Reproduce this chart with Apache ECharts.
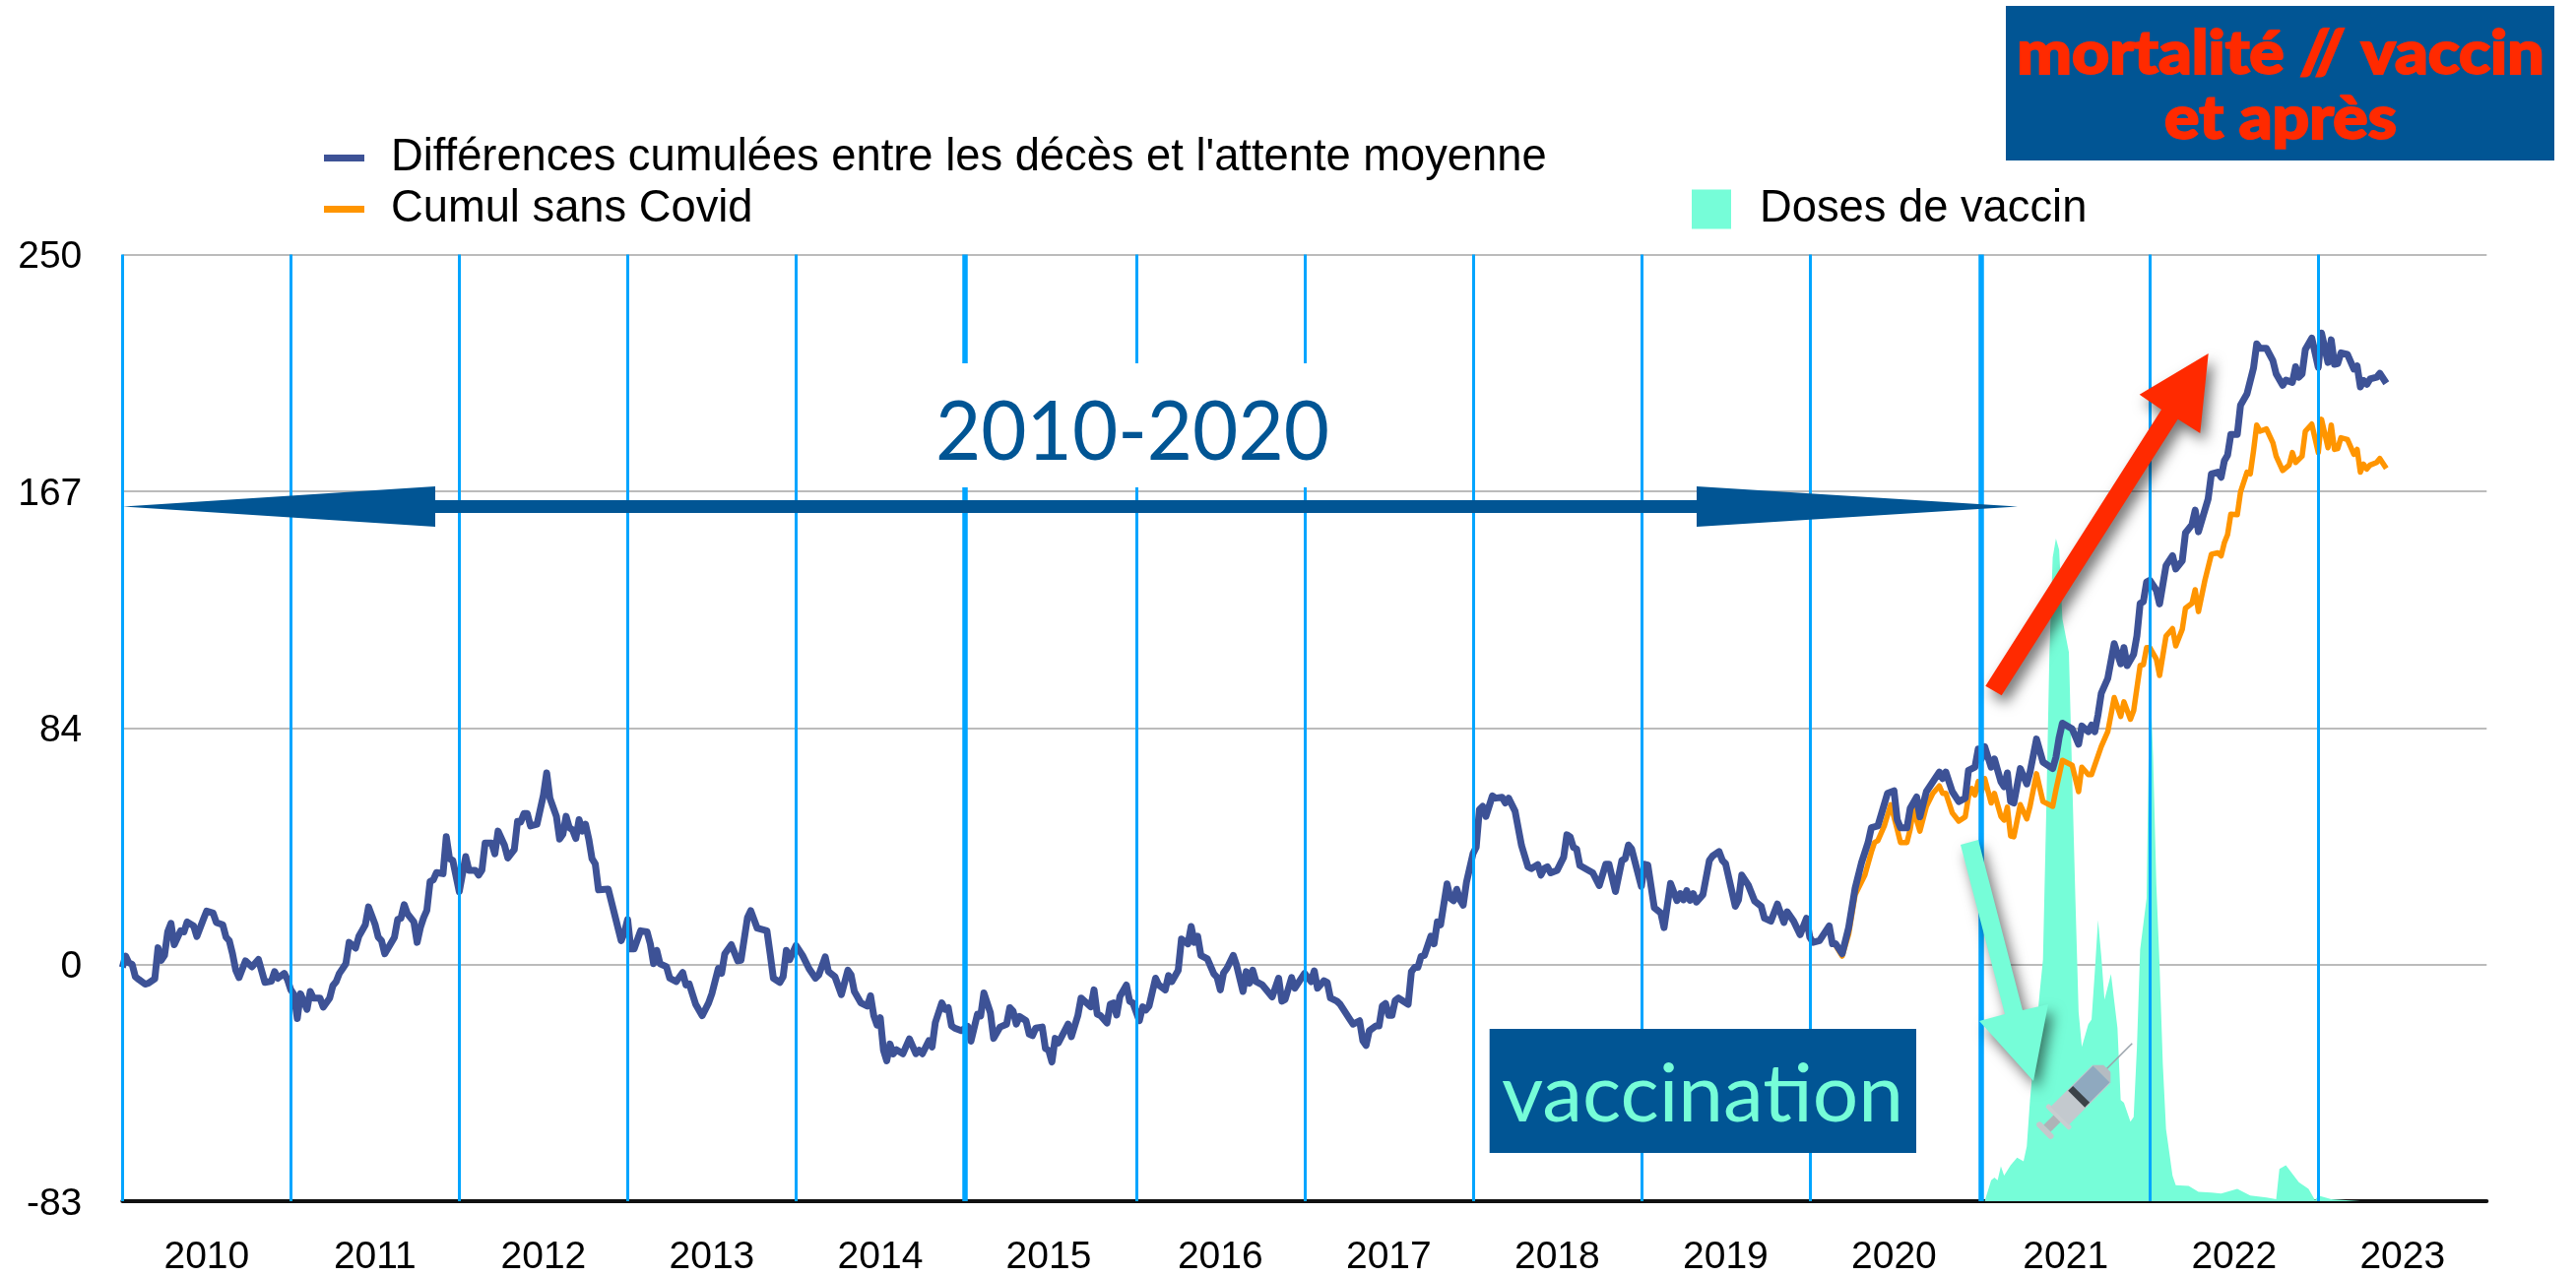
<!DOCTYPE html>
<html><head><meta charset="utf-8">
<style>html,body{margin:0;padding:0;background:#fff}#c{width:2616px;height:1297px}</style>
<script src="https://cdn.jsdelivr.net/npm/echarts@6/dist/echarts.min.js"></script>
</head><body><div id="c"></div>
<script>
// x = week index counted from the first week of 2010
const yearLabels=['2010','2011','2012','2013','2014','2015','2016','2017','2018','2019','2020','2021','2022','2023'];
const yearStartWeeks=[0,52,104,156,208,260,313,365,417,469,521,574,626,678];
const thickYearLines=[260,574];
const yTickLabels=['-83','0','84','167','250'];
const seriesNames=["Différences cumulées entre les décès et l'attente moyenne",'Cumul sans Covid','Doses de vaccin'];

const cumul=[[0,-1],[1,3],[2,.6],[3,.1],[4,-4.3],[5,-5.2],[7,-6.9],[8,-6.6],[10,-5],[11,5.9],[12,1.5],[13,3.2],[14,11.6],[15,14.5],[16,7],[18,11.9],[19,11.5],[20,15],[22,13.6],[23,9.9],[25,15.9],[26,18.8],[28,18.1],[29,14.8],[31,14],[32,9.6],[33,8.4],[34,3.8],[35,-2],[36,-4.6],[38,1.3],[40,-.8],[42,1.8],[44,-6.3],[46,-5.9],[47,-2.5],[48,-4.8],[50,-3.1],[51,-5.4],[52,-8.9],[53,-10.6],[54,-19],[55,-10.3],[57,-15.8],[58,-9.5],[59,-11.8],[61,-11.8],[62,-15],[64,-11.8],[65,-7.4],[66,-6],[67,-3.1],[68,-1.4],[69,.3],[70,7.8],[72,5.8],[73,9.9],[74,11.9],[75,14],[76,20.3],[78,14.2],[79,9.6],[80,8.4],[81,3.8],[84,9.6],[85,15.9],[86,16.3],[87,21.1],[88,17.9],[90,15],[91,7.8],[92,13],[93,16.5],[94,19.1],[95,29.2],[96,29.8],[97,32.4],[99,32],[100,45],[101,37.3],[102,36.7],[104,25.7],[106,38],[107,33.2],[109,33.2],[110,31.5],[111,33.2],[112,42.8],[114,42.8],[115,39],[116,47],[118,41.9],[119,37.5],
[121,40.5],[122,50.4],[123,50.2],[124,53.2],[125,53.2],[126,48.8],[128,49.4],[130,59.7],[131,67.5],[132,58.6],[134,52.2],[135,44.2],[136,45.9],[137,52.2],[138,48.2],[139,47.4],[140,44.4],[141,51],[142,47],[143,49.4],[144,44.2],[145,37.3],[146,35.5],[147,26.3],[150,26.6],[154,8.4],[155,11.3],[156,15.9],[157,5.5],[158,5.5],[160,11.9],[162,11.5],[163,7.3],[164,.3],[165,5],[166,.3],[168,-.8],[169,-4.8],[171,-6],[173,-2.8],[174,-7.2],[175,-6.8],[177,-14],[179,-18],[181,-13.5],[182,-10.3],[184,-1.4],[185,-3.1],[186,3.8],[188,7],[190,1.3],[191,1.5],[193,16.5],[194,19],[196,12.8],[199,11.9],[200,3.8],[201,-4.8],[203,-6.3],[204,-4.3],[205,5],[206,1.7],[208,6.7],[210,3.2],[212,-1.4],[214,-4.8],[215,-3.7],[217,2.7],[218,-2.5],[220,-4.3],[222,-10.6],[224,-2],[225,-3.7],[226,-9.5],[228,-13.5],[230,-14.6],[231,-11],[232,-18],[233,-21.3],[234,-18.7],[235,-30.2],[236,-33.9],[237,-28],[238,-31.5],[239,-30],
[241,-31.4],[243,-26.2],[245,-31.4],[246,-30.2],[247,-31.4],[249,-26.8],[250,-29],[251,-20.4],[253,-13.5],[254,-15.8],[255,-15.2],[256,-21.6],[257,-22.4],[259,-23.3],[261,-21.8],[262,-27],[264,-17.5],[265,-18.1],[266,-10],[268,-17],[269,-26],[271,-22],[273,-21],[274,-15.2],[275,-16.4],[276,-21],[277,-18.3],[279,-19.8],[280,-24.5],[281,-25],[282,-22.4],[284,-22],[285,-29.6],[286,-30.2],[287,-34.3],[288,-26],[289,-27.6],[292,-21],[293,-25.4],[295,-18],[296,-11.8],[299,-14.9],[300,-8.9],[301,-17.5],[302,-18],[304,-20.6],[305,-14],[306,-13.5],[307,-17.8],[308,-11.2],[310,-7.2],[311,-12.9],[312,-13.5],[314,-19.8],[315,-14.9],[316,-16],[317,-14.6],[319,-4.8],[320,-7.2],[322,-8.9],[323,-3.9],[324,-6],[326,-2],[327,9],[329,7.3],[330,13.4],[331,7.8],[332,10],[333,3.2],[335,2],[337,-3.3],[338,-4.5],[339,-8.9],[340,-2.9],[341,-1.4],[343,3.2],[344,-.2],[346,-9.5],[347,-2.5],[348,-6.6],[349,-2],[350,-6],[352,-7.2],[355,-11.4],[357,-4.8],[358,-12.9],[359,-12.3],[361,-4.6],[362,-8.3],
[365,-3.1],[367,-6],[368,-2.2],[369,-8.3],[371,-5.7],[372,-6.3],[373,-11.8],[375,-12.9],[376,-14],[379,-19.3],[380,-21],[382,-19.8],[383,-26.8],[384,-28.5],[385,-23.3],[387,-21.6],[388,-21.6],[389,-14.6],[390,-13.7],[391,-17.9],[392,-17.9],[393,-12.6],[394,-11.8],[397,-14],[398,-2.5],[399,-1],[400,-1],[401,2.9],[402,3.2],[404,10],[405,7.3],[406,15],[407,14],[409,28.4],[410,23.4],[411,22.5],[412,26.5],[413,22.8],[414,20.9],[415,29],[417,39],[418,41.3],[419,54.6],[420,55.7],[421,52.2],[423,59.4],[424,58.6],[426,58.9],[427,56.9],[428,58.6],[430,54],[432,41.9],[434,34.4],[435,33.8],[437,35.2],[438,31.5],[439,33.8],[440,34.4],[441,32.3],[443,33.2],[445,37.8],[446,45.7],[447,45],[448,41.3],[449,40.7],[450,34.9],[454,32.3],[456,27.8],[458,35.3],[459,35.3],[461,25.7],[463,36.7],[464,37.3],[465,42.1],[466,40.7],[469,27.5],[470,35.3],[471,35],[473,20],[475,18.2],[476,13],[478,28.6],
[480,22.5],[481,25],[482,22.8],[483,26],[484,22.6],[485,25],[486,22],[488,24.6],[490,36.7],[491,38.2],[493,39.8],[494,36.7],[495,35.5],[498,20.5],[499,22.8],[500,31.5],[502,28],[504,22.3],[506,20.5],[507,16.3],[509,15.3],[511,21.3],[513,14.8],[514,18.6],[516,15.3],[518,10.5],[520,16.3],[521,9.6],[522,7.8],[524,8.4],[527,13.6],[528,7.3],[529,7.3],[531,3.8],[533,13],[535,26.9],[537,36],[539,43],[540,48.2],[542,48.8],[545,60.3],[547,61.2],[548,51],[549,48.2],[551,48.2],[552,55],[554,59],[555,52],[557,60.9],[561,67.8],[562,65.5],[563,67.8],[565,60.9],[567,57.4],[569,58.6],[570,68.4],[572,69.5],[573,75.9],[574,72.4],[575,76.7],[577,69.5],[578,72.4],[580,64.4],[581,62.6],[582,67.5],[583,57.4],[584,56.9],[586,69],[588,63.6],[589,67.8],[591,79.4],[593,71.3],[596,69],[597,73],
[598,80],[599,85],[602,83],[604,77.6],[605,84],[607,82],[608,84.3],[609,82],[610,88],[611,95.5],[613,100.7],[615,113],[617,105.9],[618,111.6],[619,105.3],[621,109.3],[622,115.7],[623,127.2],[624,127.8],[625,134.7],[626,135.3],[628,131.8],[629,127],[631,140.5],[633,144],[634,139.3],[636,142.2],[637,152],[639,154.9],[640,160],[641,152.4],[644,164],[645,172.8],[647,173.4],[648,171.6],[649,177.4],[650,179.4],[651,186.7],[653,186.7],[654,197],[656,201],[658,210],[659,218.6],[660,217],[662,217],[664,212.6],[665,208],[667,204],[668,205.8],[670,205],[671,210.5],[672,206.8],[673,208],[674,216.6],[676,220.6],[678,210.3],[679,222.4],[681,212],[682,220],[683,211.4],[684,211.6],[685,215.4],[687,214.9],[689,209.7],[690,210.8],[691,203.4],[692,205.7],[693,204.3],[694,206.2],[696,206.8],[697,208.2],[699,204.7]];

const sansCovid=[[529,6.7],[531,3],[533,10.7],[535,24.6],[538,31.5],[540,39.6],[541,43],[542,43.6],[544,48.8],[546,56.3],[548,47.6],[549,43],[551,43],[552,47.6],[553,54.6],[555,47],[557,55.7],[559,60.3],[561,62.9],[562,60.3],[563,60.3],[565,53.4],[567,50.5],[569,52],[570,59.2],[571,62],[572,59.7],[573,64.4],[574,60.9],[575,65.5],[577,56.9],[578,60.3],[580,52.2],[581,50.9],[582,55.4],[583,45.3],[584,45],[586,56.3],[588,51.3],[589,55.7],[591,67.2],[593,57.4],[596,55.7],[597,61.5],[599,71.9],[602,70.2],[604,60.9],[605,69.5],[607,66.9],[608,66.9],[611,76.8],[613,82],[615,94],[617,87.4],[618,92.5],[620,86.4],[621,89.4],[623,105.3],[624,105.6],[625,111.6],[626,111.6],[628,107.6],[629,101.8],[631,115.7],[633,118.3],[634,112.2],[636,118],[637,125.5],[639,127.2],[640,132],[641,124.3],[643,135.3],[645,144.5],[647,145],[648,143.9],[649,148.5],[650,151.4],[651,158.6],[653,158.4],[654,166.4],[656,173.4],[657,172.8],[658,180.8],[659,190],[660,187.8],[662,188.6],[664,183.7],[665,179],[667,174],[669,175.9],[670,180.3],[671,176.8],[673,179],[674,187.8],[676,190.3],[678,180.3],[679,192],[681,182],[682,190],[683,181.4],[684,181.7],[685,185.5],[687,184.9],[689,179.7],[690,181.4],[691,173.4],[692,176.2],[693,174.5],[694,175.9],[696,176.8],[697,178.2],[699,174.7]];

// doses on a hidden 0-100 scale (no axis is printed for them in the picture)
const doses=[[575,0],[577,2.2],[578,2.5],[579,2.2],[580,3.7],[581,2.7],[583,3.8],[585,4.6],[587,4.2],[588,5.8],[589,10.7],[590,14.5],[592,22.1],[593,25.5],[594,41],[595,58],[596,68],[597,70],[598,68.8],[599,61.5],[601,58],[602,45],[603,32],[604,20],[605,16.3],[607,18.7],[608,19.2],[609,24.2],[610,29.7],[611,25.9],[612,21.3],[614,24],[616,18.3],[617,10.7],[618,10.4],[620,8.4],[621,8.9],[622,16.2],[623,26.6],[625,32],[626,56],[627,47],[628,33.5],[629,24.9],[630,14.5],[631,7.6],[633,2.7],[634,1.7],[638,1.6],[641,1],[645,.9],[648,.8],[653,1.3],[657,.6],[662,.4],[665,.2],[666,3.4],[668,3.8],[672,2],[675,1.3],[677,.1],[678,.6],[682,.2],[691,0]];

const NAVY='#3d5296',ORANGE='#ff9500',MINT='#76fdd8',DEEP='#015594',RED='#ff2a00',SKY='#00a5ff',FONT='"Liberation Sans"';
const yTickValues=[-83,0,83,167,250];
const poly=(points,fill,extra)=>({type:'polygon',shape:{points},style:Object.assign({fill},extra||{}),silent:true,z:10});
const shadow={shadowBlur:14,shadowColor:'rgba(0,0,0,0.55)',shadowOffsetX:5,shadowOffsetY:8};
const box=(x,y,w,h,fill,z)=>({type:'rect',shape:{x,y,width:w,height:h},style:{fill},silent:true,z:z||10});
const txt=(x,y,text,fontSize,fill,fontWeight,scaleX,extra)=>({type:'text',x,y,scaleX:scaleX||1,silent:true,z:12,style:Object.assign({text,fontSize,fill,fontWeight,fontFamily:'Lato',align:'center',verticalAlign:'middle'},extra||{})});

const syringe={type:'group',x:2120,y:1105,rotation:Math.PI/4,silent:true,z:13,children:[
 {type:'line',shape:{x1:24,y1:0,x2:64,y2:0},style:{stroke:'#9aa3ab',lineWidth:1.5},z:13},
 {type:'rect',shape:{x:-64,y:-11,width:6,height:22,r:3},style:{fill:'#c4c8cb'},z:13},
 {type:'rect',shape:{x:-58,y:-5,width:16,height:10},style:{fill:'#aeb3b7'},z:13},
 {type:'rect',shape:{x:-44,y:-17,width:5,height:34,r:2},style:{fill:'#c9cdd0'},z:13},
 {type:'rect',shape:{x:-40,y:-13,width:60,height:26},style:{fill:'#c3c9ce'},z:13},
 {type:'rect',shape:{x:-10,y:-12,width:30,height:24},style:{fill:'#8fa9bf'},z:13},
 {type:'rect',shape:{x:-16,y:-12,width:7,height:24},style:{fill:'#3b4248'},z:13},
 {type:'polygon',shape:{points:[[20,-13],[28,-5],[28,5],[20,13]]},style:{fill:'#b5bcc2'},z:13}
]};
const legendText=pad=>({fontFamily:FONT,fontSize:45.3,color:'#000',padding:[0,0,0,pad]});

const chart=echarts.init(document.getElementById('c'),null,{renderer:'canvas'});
chart.setOption({
 animation:false,backgroundColor:'#fff',
 grid:{left:124.3,top:258.6,width:2401,height:963.4,containLabel:false},
 legend:[
  {data:[seriesNames[0]],left:324,top:133,icon:'rect',itemWidth:41,itemHeight:7,textStyle:legendText(22),selectedMode:false},
  {data:[seriesNames[1]],left:324,top:185,icon:'rect',itemWidth:41,itemHeight:7,textStyle:legendText(22),selectedMode:false},
  {data:[seriesNames[2]],left:1713,top:185,icon:'rect',itemWidth:40,itemHeight:40,textStyle:legendText(24),selectedMode:false}
 ],
 xAxis:{type:'value',min:0,max:730,
  axisLine:{show:true,onZero:false,lineStyle:{color:'#111',width:4}},axisTick:{show:false},splitLine:{show:false},
  axisLabel:{customValues:yearStartWeeks.map(w=>w+26),margin:38,fontFamily:FONT,fontSize:39,color:'#000',
   formatter:v=>yearLabels[yearStartWeeks.indexOf(v-26)]}},
 yAxis:[
  {type:'value',min:-250/3,max:250,interval:250/3,
   axisLine:{show:false},axisTick:{show:false},
   splitLine:{show:true,lineStyle:{color:'#bbbbbb',width:2}},
   axisLabel:{margin:41,verticalAlign:'top',lineHeight:6,fontFamily:FONT,fontSize:39,color:'#000',
    formatter:v=>yTickLabels[yTickValues.indexOf(Math.round(v))]}},
  {type:'value',min:0,max:100,show:false,splitLine:{show:false}}
 ],
 series:[
  {name:seriesNames[2],type:'line',yAxisIndex:1,data:doses,showSymbol:false,smooth:false,z:1,
   lineStyle:{width:0},itemStyle:{color:MINT},areaStyle:{color:MINT,opacity:1,origin:'start'}},
  {name:'repères',type:'line',data:[],z:2,markLine:{silent:true,symbol:'none',animation:false,label:{show:false},
   data:yearStartWeeks.map(w=>({xAxis:w,lineStyle:{color:SKY,type:'solid',width:thickYearLines.includes(w)?5.5:3}}))}},
  {name:seriesNames[1],type:'line',data:sansCovid,showSymbol:false,z:3,lineStyle:{width:5.5,color:ORANGE,join:'round'},itemStyle:{color:ORANGE}},
  {name:seriesNames[0],type:'line',data:cumul,showSymbol:false,z:4,lineStyle:{width:7,color:NAVY,join:'round'},itemStyle:{color:NAVY}}
 ],
 graphic:[
  box(895,369,510,126,'#fff',9),
  txt(1150,440,'2010-2020',84,DEEP,400,0.95),
  poly([[125,514.5],[442,494],[442,508],[1723,508],[1723,494],[2049,514.5],[1723,535],[1723,521],[442,521],[442,535]],DEEP),
  box(2037,6,557,157,DEEP),
  txt(2316,56,'mortalité // vaccin',60,RED,900,1.1,{stroke:RED,lineWidth:2}),
  txt(2316,122,'et après',60,RED,900,1.1,{stroke:RED,lineWidth:2}),
  box(1512.7,1045,433.3,126,DEEP),
  txt(1729,1113,'vaccination',82,MINT,400),
  poly([[2016.3,696.7],[2195,416],[2172.7,400.7],[2242.7,359],[2234.3,440],[2211.7,425.7],[2032.7,706.3]],RED,shadow),
  poly([[1991,858],[2009,853],[2054,1026],[2080,1020],[2065,1098],[2010,1037],[2036,1030]],MINT,shadow),
  syringe
 ]
});
</script></body></html>
